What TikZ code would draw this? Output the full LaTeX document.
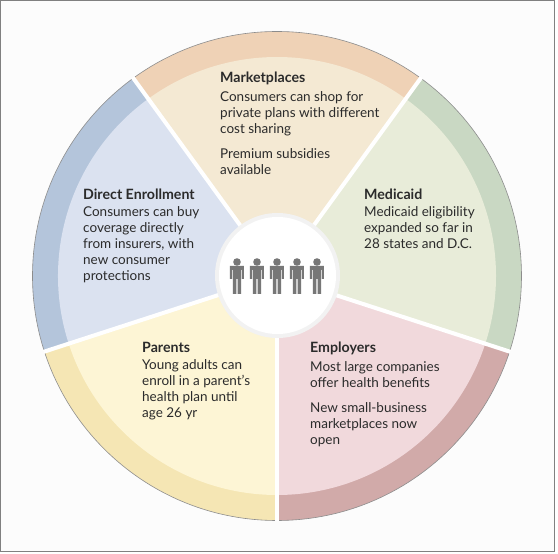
\documentclass[tikz,border=0pt]{standalone}
\usepackage{fontspec}
\setmainfont{Lato}
\usepackage{xcolor}
\usetikzlibrary{positioning}

\definecolor{mktband}{HTML}{EFD2B6}
\definecolor{mktfill}{HTML}{F4E9D3}
\definecolor{medband}{HTML}{C9D8C3}
\definecolor{medfill}{HTML}{E8ECD9}
\definecolor{empband}{HTML}{D1AAA9}
\definecolor{empfill}{HTML}{F1D9DC}
\definecolor{parband}{HTML}{F5E6B4}
\definecolor{parfill}{HTML}{FDF5D5}
\definecolor{dirband}{HTML}{B4C5DB}
\definecolor{dirfill}{HTML}{DBE2F0}
\definecolor{inktext}{HTML}{2B2B2B}
\definecolor{personcol}{HTML}{777777}

\begin{document}
\begin{tikzpicture}[
  x=1pt, y=1pt,
  title/.style={font=\fontsize{14.2}{16}\selectfont\bfseries, text=inktext, inner sep=0pt, anchor=north west},
  body/.style={font=\fontsize{13.5}{16}\selectfont, text=inktext, inner sep=0pt, align=left, below=6.5pt of #1.south west, anchor=north west},
  spoke/.style={draw=white, line width=4pt},
  person/.pic={
    \fill[personcol] (0,13) circle (3.8);
    \fill[personcol] (-7,9) -- (7,9) -- (7,-4) -- (4.2,-4) -- (4.2,-19) -- (0.7,-19) -- (0.7,-4)
      -- (-0.7,-4) -- (-0.7,-19) -- (-4.2,-19) -- (-4.2,-4) -- (-7,-4) -- cycle;
    \draw[white!70!personcol, line width=0.4pt] (-4.6,5) -- (-4.6,-4) (4.6,5) -- (4.6,-4);
  },
]
  \useasboundingbox (-277,-278) rectangle (281,276);

  % Frame
  \draw[fill=white!98!gray, draw=gray, line width=1pt] (-276.5,-276) rectangle (278,275.5);

  % Sectors
  \foreach \sa/\ea/\band/\inner in {54/126/mktband/mktfill, -18/54/medband/medfill, -90/-18/empband/empfill,
                                    198/270/parband/parfill, 126/198/dirband/dirfill}{
    \fill[\band] (0,0) -- (\sa:244.5) arc[start angle=\sa, end angle=\ea, radius=244.5] -- cycle;
    \fill[\inner] (0,0) -- (\sa:219) arc[start angle=\sa, end angle=\ea, radius=219] -- cycle;
  }

  % Outer line
  \draw[gray!90, line width=0.6pt] (0,0) circle (244.5);

  % Spokes
  \foreach \ang in {54,126,198,270,342}
    \draw[spoke] (0,0) -- (\ang:245.5);

  % Hub
  \node[circle, fill=black!5, minimum size=125pt, inner sep=0pt] (hub) at (0.5,0.5) {};
  \node[circle, fill=white, minimum size=117pt, inner sep=0pt] (hubin) at (0.5,0.5) {};

  % People
  \foreach \px in {-40,-20,0,20,40}
    \pic at (\px,1) {person};

  % Marketplaces
  \node[title] (mkt) at (-57,204) {Marketplaces};
  \node[body=mkt] (mkttext) {Consumers can shop for\\private plans with different\\cost sharing\\[9pt]Premium subsidies\\available};

  % Medicaid
  \node[title] (med) at (87,87) {Medicaid};
  \node[body=med] (medtext) {Medicaid eligibility\\expanded so far in\\28 states and D.C.};

  % Employers
  \node[title] (emp) at (33,-66) {Employers};
  \node[body=emp] (emptext) {Most large companies\\offer health benefits\\[9pt]New small-business\\marketplaces now\\open};

  % Parents
  \node[title] (par) at (-135,-66) {Parents};
  \node[body=par] (partext) {Young adults can\\enroll in a parent's\\health plan until\\age 26 yr};

  % Direct Enrollment
  \node[title] (dir) at (-194,87) {Direct Enrollment};
  \node[body=dir] (dirtext) {Consumers can buy\\coverage directly\\from insurers, with\\new consumer\\protections};

\end{tikzpicture}
\end{document}
